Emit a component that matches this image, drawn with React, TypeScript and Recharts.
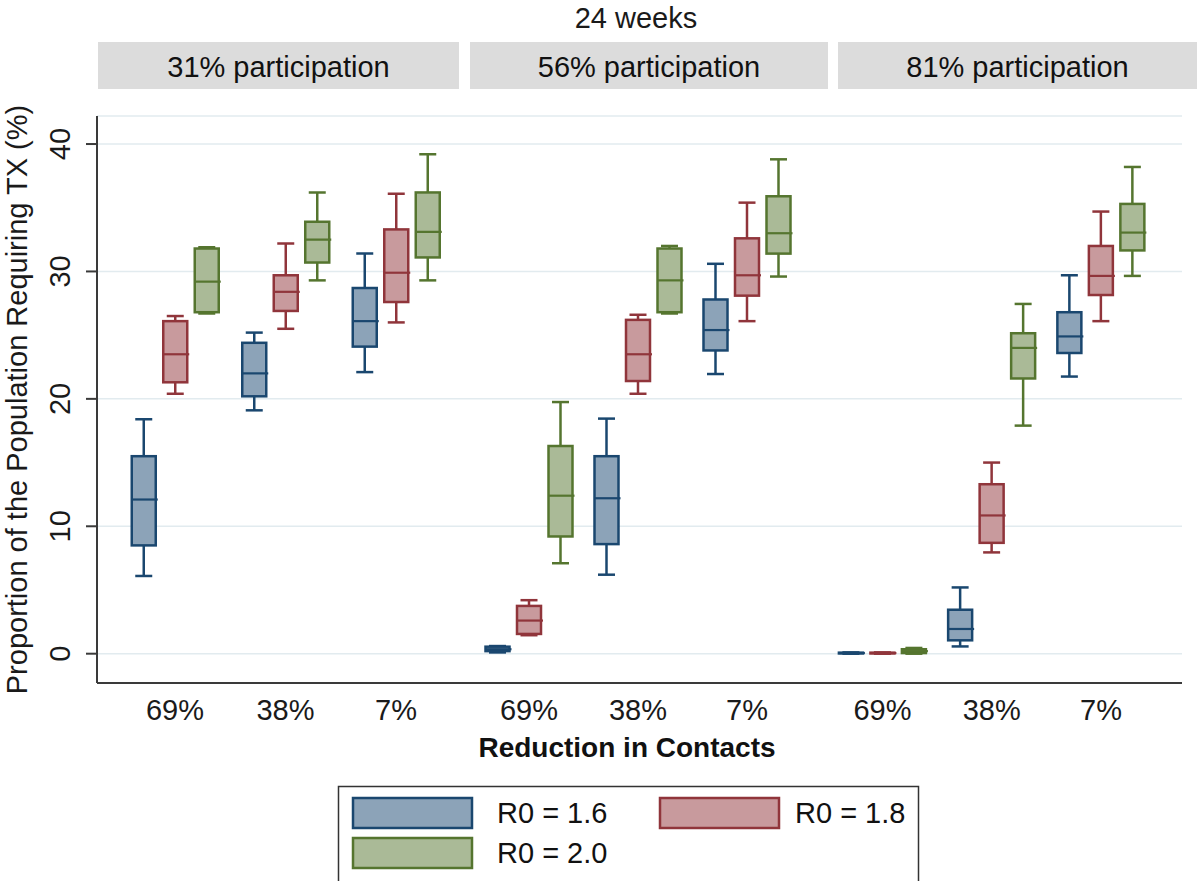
import React from 'react';
import { BarChart, Bar, XAxis, YAxis, CartesianGrid } from 'recharts';

const groups = ['69%', '38%', '7%'];
const panelTitles = ['31% participation', '56% participation', '81% participation'];
const seriesNames = ['R0 = 1.6', 'R0 = 1.8', 'R0 = 2.0'];
const yTicks = [0, 10, 20, 30, 40];

// [min, q1, median, q3, max] for 69%, 38%, 7% reduction
const p31_r16 = [[6.1, 8.5, 12.1, 15.5, 18.4], [19.1, 20.2, 22.0, 24.4, 25.2], [22.1, 24.1, 26.1, 28.7, 31.4]];
const p31_r18 = [[20.4, 21.3, 23.5, 26.1, 26.5], [25.5, 26.9, 28.4, 29.7, 32.2], [26.0, 27.6, 29.9, 33.3, 36.1]];
const p31_r20 = [[26.7, 26.8, 29.2, 31.8, 31.9], [29.3, 30.7, 32.5, 33.9, 36.2], [29.3, 31.1, 33.1, 36.2, 39.2]];
const p56_r16 = [[0.1, 0.2, 0.35, 0.55, 0.6], [6.2, 8.6, 12.2, 15.5, 18.45], [21.95, 23.8, 25.4, 27.8, 30.6]];
const p56_r18 = [[1.45, 1.55, 2.6, 3.75, 4.2], [20.4, 21.4, 23.5, 26.2, 26.6], [26.1, 28.1, 29.7, 32.6, 35.4]];
const p56_r20 = [[7.1, 9.2, 12.4, 16.3, 19.75], [26.7, 26.8, 29.3, 31.8, 32.0], [29.6, 31.4, 33.0, 35.9, 38.8]];
const p81_r16 = [[0, 0.02, 0.05, 0.08, 0.1], [0.57, 1.05, 1.94, 3.45, 5.2], [21.75, 23.6, 24.9, 26.8, 29.7]];
const p81_r18 = [[0, 0.02, 0.05, 0.08, 0.1], [7.95, 8.7, 10.85, 13.3, 15.0], [26.1, 28.15, 29.65, 32.0, 34.7]];
const p81_r20 = [[0, 0.05, 0.2, 0.35, 0.45], [17.9, 21.6, 24.0, 25.15, 27.45], [29.65, 31.65, 33.05, 35.3, 38.2]];

const colors = [
  { stroke: '#1a476f', fill: '#8ca3b8' },
  { stroke: '#90353b', fill: '#c89a9d' },
  { stroke: '#55752f', fill: '#aaba97' },
];

const FONT = '"Liberation Sans", Arial, Helvetica, sans-serif';
const keys = ['s0', 's1', 's2'];

const toRows = (a: number[][], b: number[][], c: number[][]) =>
  groups.map((g, i) => ({ group: g, s0: a[i], s1: b[i], s2: c[i] }));

const panelData = [
  toRows(p31_r16, p31_r18, p31_r20),
  toRows(p56_r16, p56_r18, p56_r20),
  toRows(p81_r16, p81_r18, p81_r20),
];

// box drawn inside the range bar (min..max) the library positions for us
const BoxShape = (props: any) => {
  const { x, y, width, height, payload, k, color } = props;
  const st = payload[k];
  const top = Math.min(y, y + height);
  const h = Math.abs(height);
  const span = st[4] - st[0] || 1;
  const py = (v: number) => top + ((st[4] - v) / span) * h;
  const cx = x + width / 2;
  const cap = 8.5;
  return (
    <g>
      <line x1={cx} x2={cx} y1={py(st[4])} y2={py(st[0])} stroke={color.stroke} strokeWidth={2.5} />
      <line x1={cx - cap} x2={cx + cap} y1={py(st[4])} y2={py(st[4])} stroke={color.stroke} strokeWidth={2.5} />
      <line x1={cx - cap} x2={cx + cap} y1={py(st[0])} y2={py(st[0])} stroke={color.stroke} strokeWidth={2.5} />
      <rect
        x={x}
        y={py(st[3])}
        width={width}
        height={Math.max(py(st[1]) - py(st[3]), 0.5)}
        fill={color.fill}
        stroke={color.stroke}
        strokeWidth={2.5}
      />
      <line x1={x} x2={x + width + 2} y1={py(st[2])} y2={py(st[2])} stroke={color.stroke} strokeWidth={2.2} />
    </g>
  );
};

const YTick = (props: any) => {
  const { x, y, payload } = props;
  return (
    <text
      x={x}
      y={y}
      transform={`rotate(-90, ${x}, ${y})`}
      textAnchor="middle"
      fontSize={29}
      fontFamily={FONT}
      fill="#1a1a1a"
    >
      {payload.value}
    </text>
  );
};

const EmptyTick = () => <g />;

const YTitle = (props: any) => {
  const vb = props.viewBox;
  const tx = 27;
  const ty = vb.y + vb.height / 2;
  return (
    <text
      x={tx}
      y={ty}
      transform={`rotate(-90, ${tx}, ${ty})`}
      textAnchor="middle"
      fontSize={29}
      fontFamily={FONT}
      fill="#1a1a1a"
    >
      Proportion of the Population Requiring TX (%)
    </text>
  );
};

interface PanelProps {
  idx: number;
  left: number;
  width: number;
  padL: number;
  padR: number;
}

const Panel: React.FC<PanelProps> = ({ idx, left, width, padL, padR }) => {
  const first = idx === 0;
  return (
    <div style={{ position: 'absolute', left, top: 0 }}>
      <BarChart
        width={width}
        height={760}
        data={panelData[idx]}
        margin={{ top: 116, right: 0, bottom: 0, left: 0 }}
        barSize={24}
        barGap={7.5}
      >
        <CartesianGrid horizontal vertical={false} stroke="#e2ebef" strokeWidth={1.5} />
        <XAxis
          dataKey="group"
          height={77}
          padding={{ left: padL, right: padR }}
          axisLine={{ stroke: '#3a3a3a', strokeWidth: 2 }}
          tickLine={false}
          tickSize={0}
          tickMargin={16}
          tick={{ fontSize: 29, fontFamily: FONT, fill: '#1a1a1a' }}
          interval={0}
        />
        {first ? (
          <YAxis
            type="number"
            domain={[-2.3, 42.2]}
            ticks={yTicks}
            width={97}
            axisLine={{ stroke: '#3a3a3a', strokeWidth: 2 }}
            tickLine={{ stroke: '#3a3a3a', strokeWidth: 2 }}
            tickSize={11}
            tickMargin={16}
            tick={<YTick />}
            label={<YTitle />}
            allowDataOverflow
          />
        ) : (
          <YAxis
            type="number"
            domain={[-2.3, 42.2]}
            ticks={yTicks}
            width={0}
            axisLine={false}
            tickLine={false}
            tickSize={0}
            tick={<EmptyTick />}
            allowDataOverflow
          />
        )}
        {keys.map((k, i) => (
          <Bar
            key={k}
            dataKey={(d: any) => [d[k][0], d[k][4]]}
            name={seriesNames[i]}
            isAnimationActive={false}
            shape={(p: any) => <BoxShape {...p} k={k} color={colors[i]} />}
          />
        ))}
      </BarChart>
    </div>
  );
};

const headerBoxes = [
  { x: 98, w: 361 },
  { x: 470, w: 358 },
  { x: 838, w: 359 },
];

const legendItems = [
  { x: 353, y: 798, tx: 497 },
  { x: 660, y: 798, tx: 795 },
  { x: 353, y: 838, tx: 497 },
];

export default function App() {
  return (
    <div style={{ position: 'relative', width: 1200, height: 881, background: '#fff', fontFamily: FONT, overflow: 'hidden' }}>
      <style>{'body{margin:0}'}</style>
      <Panel idx={0} left={0} width={464} padL={22.75} padR={12.75} />
      <Panel idx={1} left={464} width={352} padL={10.5} padR={14.5} />
      <Panel idx={2} left={816} width={366} padL={11.9} padR={26.4} />
      <svg width={1200} height={881} style={{ position: 'absolute', left: 0, top: 0, pointerEvents: 'none' }}>
        <text x={636} y={28} textAnchor="middle" fontSize={29} fontFamily={FONT} fill="#1a1a1a">
          24 weeks
        </text>
        {headerBoxes.map((b, i) => (
          <g key={i}>
            <rect x={b.x} y={42} width={b.w} height={47} fill="#dcdcdc" />
            <text x={b.x + b.w / 2} y={77} textAnchor="middle" fontSize={29} fontFamily={FONT} fill="#111">
              {panelTitles[i]}
            </text>
          </g>
        ))}
        <text x={627} y={757} textAnchor="middle" fontSize={28} fontWeight="bold" fontFamily={FONT} fill="#111">
          Reduction in Contacts
        </text>
        <rect x={338.5} y={786.5} width={580} height={100} fill="none" stroke="#333" strokeWidth={1.5} />
        {legendItems.map((it, i) => (
          <g key={i}>
            <rect x={it.x} y={it.y} width={119} height={30} fill={colors[i].fill} stroke={colors[i].stroke} strokeWidth={2.5} />
            <text x={it.tx} y={it.y + 25} fontSize={29} fontFamily={FONT} fill="#111">
              {seriesNames[i]}
            </text>
          </g>
        ))}
      </svg>
    </div>
  );
}
